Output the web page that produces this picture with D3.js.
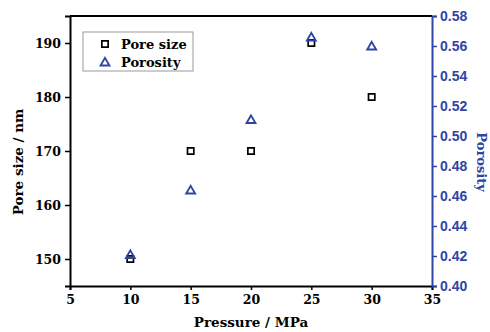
<!DOCTYPE html>
<html><head><meta charset="utf-8">
<script src="https://cdn.jsdelivr.net/npm/d3@7"></script>
<style>body{margin:0;background:#fff}svg{display:block}</style>
</head><body>
<svg id="c" width="490" height="332"></svg>
<script>
const pressure = [10, 15, 20, 25, 30];
const poreSize = [150, 170, 170, 190, 180];
const porosity = [0.421, 0.464, 0.511, 0.566, 0.560];
const xTicks = [5, 10, 15, 20, 25, 30, 35];
const leftTicks = [150, 160, 170, 180, 190];
const rightTicks = [0.40, 0.42, 0.44, 0.46, 0.48, 0.50, 0.52, 0.54, 0.56, 0.58];
const seriesNames = ["Pore size", "Porosity"];

const blue = "#2f45a6";
const serif = "'DejaVu Serif', serif";
const sans = "'Liberation Sans', Arial, sans-serif";
const L = 70, R = 432, T = 16, B = 286;
const svg = d3.select("#c");

const x = d3.scaleLinear().domain([5, 35]).range([L, R]);
const yL = d3.scaleLinear().domain([145, 195]).range([B, T]);
const yR = d3.scaleLinear().domain([0.40, 0.58]).range([B, T]);

// top border
svg.append("line").attr("x1", L).attr("x2", R).attr("y1", T).attr("y2", T)
  .attr("stroke", "#000").attr("stroke-width", 2);

// bottom axis
const gx = svg.append("g").attr("transform", `translate(0,${B})`);
gx.call(d3.axisBottom(x).tickValues(d3.range(5, 35.1, 2.5)).tickSize(4).tickFormat(""));
gx.call(d3.axisBottom(x).tickValues(xTicks).tickSize(4).tickFormat(d3.format("d")));
gx.selectAll(".domain").attr("stroke-width", 2).attr("stroke", "#000");
gx.selectAll("line").attr("stroke-width", 1.5);
gx.selectAll("text").attr("font-family", serif).attr("font-weight", "bold")
  .attr("font-size", 12.5).attr("fill", "#000").attr("dy", "0.85em");

// left axis
const gl = svg.append("g").attr("transform", `translate(${L},0)`);
gl.call(d3.axisLeft(yL).tickValues(d3.range(145, 195.1, 5)).tickSize(4).tickFormat(""));
gl.call(d3.axisLeft(yL).tickValues(leftTicks).tickSize(5).tickFormat(d3.format("d")));
gl.selectAll(".domain").attr("stroke-width", 2).attr("stroke", "#000");
gl.selectAll("line").attr("stroke-width", 1.5);
gl.selectAll("text").attr("font-family", serif).attr("font-weight", "bold")
  .attr("font-size", 12.5).attr("fill", "#000").attr("x", -9);

// right axis
const gr = svg.append("g").attr("transform", `translate(${R},0)`);
gr.call(d3.axisRight(yR).tickValues(d3.range(0, 19).map(i => 0.40 + i * 0.01)).tickSize(3).tickFormat(""));
gr.call(d3.axisRight(yR).tickValues(rightTicks).tickSize(5).tickFormat(d3.format(".2f")));
gr.selectAll(".domain").attr("stroke-width", 2).attr("stroke", blue);
gr.selectAll("line").attr("stroke-width", 1.5).attr("stroke", blue);
gr.selectAll("text").attr("font-family", sans).attr("font-weight", "bold")
  .attr("font-size", 14).attr("fill", blue).attr("x", 8);

// axis titles
svg.append("text").attr("x", (L + R) / 2).attr("y", 327).attr("text-anchor", "middle")
  .attr("font-family", serif).attr("font-weight", "bold").attr("font-size", 13.5)
  .text("Pressure / MPa");
svg.append("text").attr("transform", `translate(23,${(T + B) / 2 + 11}) rotate(-90)`)
  .attr("text-anchor", "middle").attr("font-family", serif).attr("font-weight", "bold")
  .attr("font-size", 13.5).text("Pore size / nm");
svg.append("text").attr("transform", `translate(477,${(T + B) / 2 + 11}) rotate(90)`)
  .attr("text-anchor", "middle").attr("font-family", serif).attr("font-weight", "bold")
  .attr("font-size", 13).attr("fill", blue).text("Porosity");

// markers
const sq = d3.symbol().type(d3.symbolSquare).size(40);
const tri = d3.symbol().type(d3.symbolTriangle).size(34);
svg.append("g").selectAll("path").data(pressure.map((p, i) => [p, poreSize[i]])).join("path")
  .attr("d", sq).attr("transform", d => `translate(${x(d[0])},${yL(d[1])})`)
  .attr("fill", "none").attr("stroke", "#000").attr("stroke-width", 1.7);
svg.append("g").selectAll("path").data(pressure.map((p, i) => [p, porosity[i]])).join("path")
  .attr("d", tri).attr("transform", d => `translate(${x(d[0])},${yR(d[1]) + 1})`)
  .attr("fill", "none").attr("stroke", blue).attr("stroke-width", 1.9);

// legend
const lg = svg.append("g");
lg.append("rect").attr("x", 83).attr("y", 32).attr("width", 110).attr("height", 39)
  .attr("fill", "#fff").attr("stroke", "#999").attr("stroke-width", 1);
lg.append("path").attr("d", sq).attr("transform", "translate(105,44)")
  .attr("fill", "none").attr("stroke", "#000").attr("stroke-width", 1.7);
lg.append("path").attr("d", tri).attr("transform", "translate(105,63)")
  .attr("fill", "none").attr("stroke", blue).attr("stroke-width", 1.9);
lg.selectAll("text.l").data(seriesNames).join("text")
  .attr("x", 121).attr("y", (d, i) => 48.5 + i * 18)
  .attr("font-family", serif).attr("font-weight", "bold").attr("font-size", 13).text(d => d);
</script>
</body></html>
